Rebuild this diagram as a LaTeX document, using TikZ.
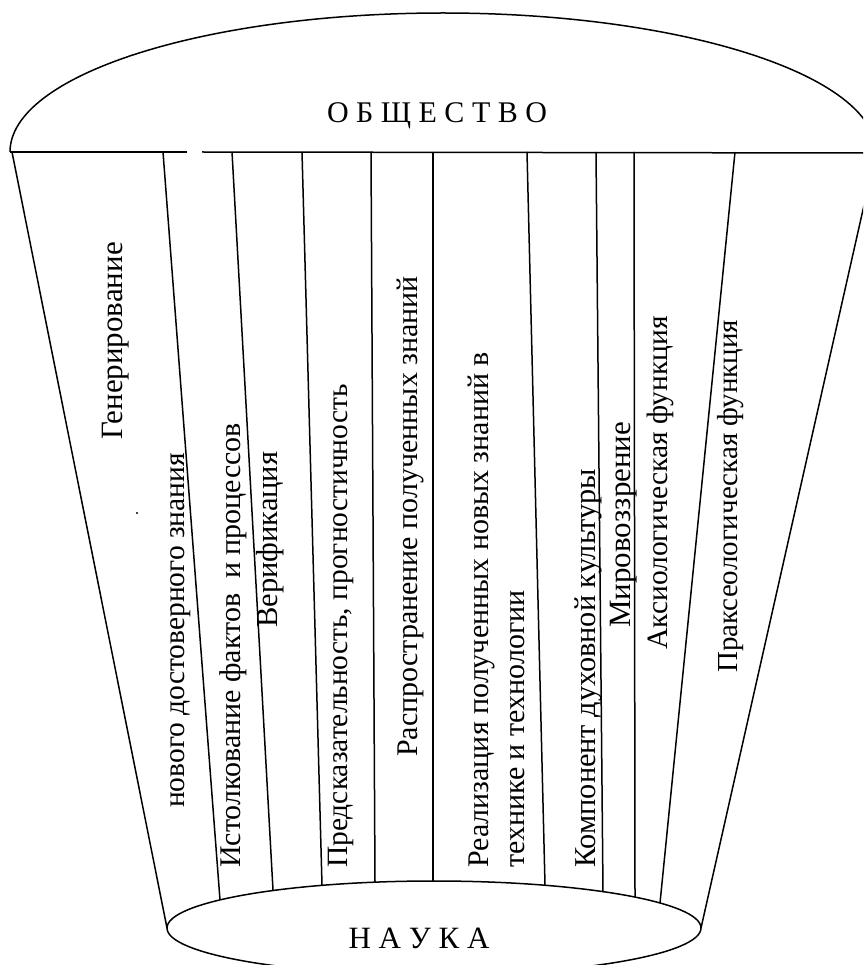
\documentclass[tikz,border=0pt]{standalone}
\usepackage{fontspec}
\setmainfont{Liberation Serif}
\newcommand\fsz[1]{\fontsize{#1}{36}\selectfont}

\begin{document}
\begin{tikzpicture}[
  x=1pt, y=-1pt,
  line/.style={line width=1.5pt},
  lab/.style={rotate=90, anchor=base west, inner sep=0pt},
  title/.style={anchor=base, inner sep=0pt}
]
\useasboundingbox (0,0) rectangle (863,965);
\clip (0,0) rectangle (863,965);

% society: upper half of the big ellipse
\begin{scope}
  \clip (0,0) rectangle (900,152);
  \draw[line] (443,152) ellipse [x radius=433pt, y radius=139pt];
\end{scope}
\draw[line] (10,152) -- (187,152);
\draw[line] (202,152) -- (880,153);

% science
\draw[line] (434,928) ellipse [x radius=267pt, y radius=47pt];

% funnel walls
\draw[line] (12,152) -- (167,928);
\draw[line] (876,152) -- (701,928);

% dividers
\draw[line] (163,152) -- (220,900);
\draw[line] (232,152) -- (273,890);
\draw[line] (302,152) -- (322,885);
\draw[line] (371,152) -- (375,882);
\draw[line] (433,152) -- (433,881);
\draw[line] (527,152) -- (545,885);
\draw[line] (596,152) -- (603,892);
\draw[line] (634,152) -- (635,897);
\draw[line] (735,152) -- (660,903);
\fill (137,513) circle (1.2pt);

\node[title, font=\fsz{30}] (soc) at (437,123) {О Б Щ Е С Т В О};
\node[title, font=\fsz{31}] (sci) at (419,948) {Н А У К А};

\node[lab, font=\fsz{31}] (gen) at (122,440) {Генерирование};
\node[lab, font=\fsz{29.5}] (gen2) at (184,808) {нового достоверного знания};
\node[lab, font=\fsz{30}] (expl) at (240,868) {Истолкование фактов~ и процессов};
\node[lab, font=\fsz{30.5}] (ver) at (277,628) {Верификация};
\node[lab, font=\fsz{29.5}] (pred) at (347,868) {Предсказательность, прогностичность};
\node[lab, font=\fsz{30}] (spread) at (417,757) {Распространение полученных знаний};
\node[lab, font=\fsz{30}] (real) at (488,868) {Реализация полученных новых знаний в};
\node[lab, font=\fsz{30}] (real2) at (524,868) {технике и технологии};
\node[lab, font=\fsz{30.3}] (cult) at (595,868) {Компонент духовной культуры};
\node[lab, font=\fsz{31}] (world) at (630,628) {Мировоззрение};
\node[lab, font=\fsz{29.5}] (axio) at (667,650) {Аксиологическая функция};
\node[lab, font=\fsz{29}] (prax) at (737,673) {Праксеологическая функция};
\end{tikzpicture}
\end{document}
